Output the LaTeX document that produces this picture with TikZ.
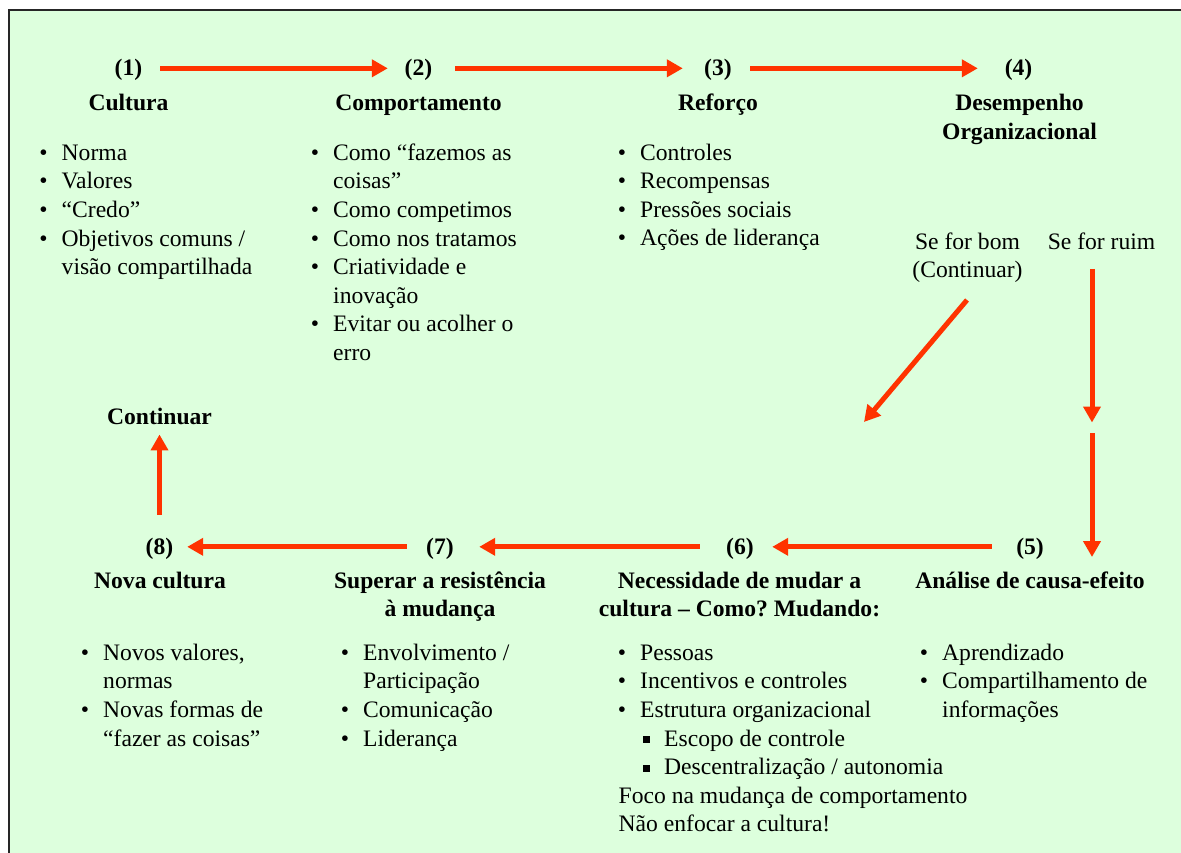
\documentclass[tikz,border=0pt]{standalone}
\usepackage{fontspec}
\setmainfont{Liberation Serif}
\usetikzlibrary{arrows.meta}
\frenchspacing
\definecolor{paper}{RGB}{221,255,221}
\definecolor{flowred}{RGB}{255,51,0}
% strut fixing the first baseline 20pt below the top of a text block
\newcommand{\firstline}{\rule{0pt}{20pt}}
% round and square list markers hung to the left of the item text
\newcommand{\bul}{\llap{\textbullet\hspace{14pt}}}
\newcommand{\sqbul}{\llap{\raisebox{3pt}{\rule{7pt}{7pt}}\hspace{14pt}}}
\newcommand{\bodysize}{\fontsize{23.6pt}{28.6pt}\selectfont}
\tikzset{
  every node/.style={inner sep=0pt, font=\bodysize},
  num/.style={anchor=base, font=\bodysize\bfseries},
  head/.style={anchor=north, align=center, font=\bodysize\bfseries},
  items/.style={anchor=north west, align=left},
  note/.style={anchor=north, align=center},
  flow/.style={draw=flowred, line width=5pt, -{Triangle[length=16pt,width=17pt]}},
  raised/.style={yshift=#1},
}
\begin{document}
\begin{tikzpicture}[x=1pt, y=-1pt]
\useasboundingbox (0,0) rectangle (1181,853);
% framed green panel
\fill[paper] (9,10) rectangle (1181,853);
\draw[line width=2pt, black!85] (9,853) -- (9,10) -- (1181,10);

% top row: stages 1-4
\node[num] (n1) at (128.5,76) {(1)};
\node[num] (n2) at (418.5,76) {(2)};
\node[num] (n3) at (718,76) {(3)};
\node[num] (n4) at (1018.5,76) {(4)};

\node[head] (h1) at (128.5,90.5) {\firstline Cultura};
\node[head] (h2) at (418.5,90.5) {\firstline Comportamento};
\node[head] (h3) at (718,90.5) {\firstline Reforço};
\node[head] (h4) at (1019.5,90.5) {\firstline Desempenho\\Organizacional};

\node[items] (l1) at (61.5,140) {\firstline\bul Norma\\\bul Valores\\\bul “Credo”\\\bul Objetivos comuns /\\visão compartilhada};
\node[items] (l2) at (333,140) {\firstline\bul Como “fazemos as\\coisas”\\\bul Como competimos\\\bul Como nos tratamos\\\bul Criatividade e\\inovação\\\bul Evitar ou acolher o\\erro};
\node[items] (l3) at (640,140) {\firstline\bul Controles\\\bul Recompensas\\\bul Pressões sociais\\\bul Ações de liderança};

% outcome branches of stage 4
\node[note] (bom) at (967.5,229) {\firstline Se for bom\\(Continuar)};
\node[note] (ruim) at (1101.5,229) {\firstline Se for ruim};
\coordinate (bomfrom) at (967,300);
\coordinate (bomto) at (864,422);
\coordinate (ruimfrom) at (1092,269);
\coordinate (ruimgap) at (1092,422.5);
\coordinate (ruimresume) at (1092,433);
\coordinate (ruimto) at (1092,557);

% bottom row: stages 5-8
\node[num] (n8) at (159.5,554) {(8)};
\node[num] (n7) at (440,554) {(7)};
\node[num] (n6) at (740,554) {(6)};
\node[num] (n5) at (1030,554) {(5)};

\node[num] (cont) at (159.5,424) {Continuar};

\node[head] (h8) at (160,568) {\firstline Nova cultura};
\node[head] (h7) at (440,568) {\firstline Superar a resistência\\à mudança};
\node[head] (h6) at (739.5,568) {\firstline Necessidade de mudar a\\cultura – Como? Mudando:};
\node[head] (h5) at (1030,568) {\firstline Análise de causa-efeito};

\node[items] (l8) at (103,640) {\firstline\bul Novos valores,\\normas\\\bul Novas formas de\\“fazer as coisas”};
\node[items] (l7) at (363,640) {\firstline\bul Envolvimento /\\Participação\\\bul Comunicação\\\bul Liderança};
\node[items] (l6) at (640,640) {\firstline\bul Pessoas\\\bul Incentivos e controles\\\bul Estrutura organizacional\\\hspace*{24pt}\sqbul Escopo de controle\\\hspace*{24pt}\sqbul Descentralização / autonomia};
\node[items] (l6note) at (618.5,783) {\firstline Foco na mudança de comportamento\\Não enfocar a cultura!};
\node[items] (l5) at (942,640) {\firstline\bul Aprendizado\\\bul Compartilhamento de\\informações};

% flow arrows
\draw[flow, shorten <=17.75pt, shorten >=16.75pt] ([raised=2pt]n1.east) -- ([raised=2pt]n2.west);
\draw[flow, shorten <=22.75pt, shorten >=21.25pt] ([raised=2pt]n2.east) -- ([raised=2pt]n3.west);
\draw[flow, shorten <=18.25pt, shorten >=26.75pt] ([raised=2pt]n3.east) -- ([raised=2pt]n4.west);
\draw[flow] (bomfrom) -- (bomto);
\draw[flow] (ruimfrom) -- (ruimgap);
\draw[flow] (ruimresume) -- (ruimto);
\draw[flow, shorten <=24.25pt, shorten >=18.25pt] ([raised=1.5pt]n5.west) -- ([raised=1.5pt]n6.east);
\draw[flow, shorten <=26.25pt, shorten >=25.25pt] ([raised=1.5pt]n6.west) -- ([raised=1.5pt]n7.east);
\draw[flow, shorten <=19.25pt, shorten >=13.75pt] ([raised=1.5pt]n7.west) -- ([raised=1.5pt]n8.east);
\draw[flow, shorten <=22.5pt, shorten >=10pt] (n8.north) -- (cont.south);
\end{tikzpicture}
\end{document}
